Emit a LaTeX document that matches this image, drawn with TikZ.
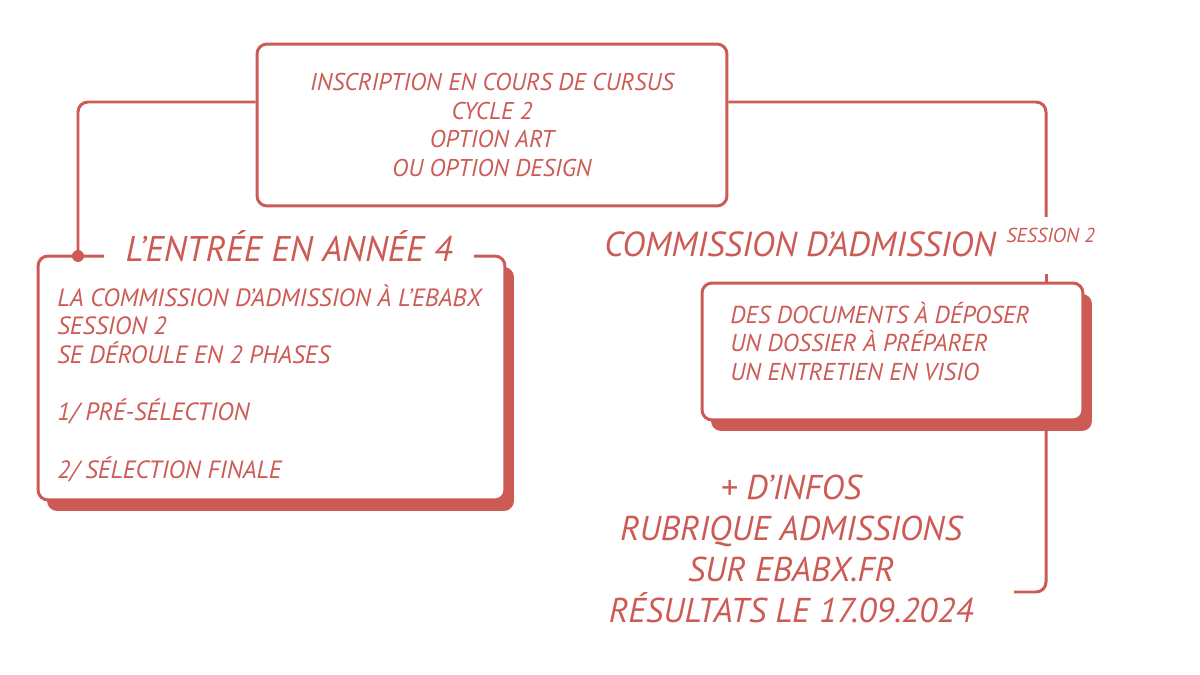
\documentclass[tikz,border=0pt]{standalone}
\usepackage{fontspec}
\setmainfont{PT Sans}
\usetikzlibrary{shadows}
\definecolor{ebared}{RGB}{205,91,85}
\tikzset{
  box/.style={draw=ebared, line width=1.7pt, rounded corners=0.2cm, fill=white, inner sep=0pt},
  shadowbox/.style={box, drop shadow={shadow xshift=0.18cm, shadow yshift=-0.22cm, fill=ebared, opacity=1}},
  link/.style={draw=ebared, line width=1.7pt, rounded corners=0.2cm},
  txt/.style={text=ebared, inner sep=0pt, font=\itshape\fontsize{#1}{#1}\selectfont},
}
\begin{document}
\begin{tikzpicture}[x=0.02cm, y=-0.02cm]
                  \useasboundingbox (0,0) rectangle (1200,675);
                  \node[box, minimum width=9.4cm, minimum height=3.24cm, align=center,
                        text=ebared, font=\itshape\fontsize{13.8}{16.4}\selectfont] (inscr) at (492,125)
                        {INSCRIPTION EN COURS DE CURSUS\\CYCLE 2\\OPTION ART\\OU OPTION DESIGN};
                  \node[shadowbox, minimum width=9.34cm, minimum height=4.88cm] (entree) at (271.5,378) {};
                  \node[shadowbox, minimum width=7.62cm, minimum height=2.74cm] (docs) at (892.5,351.5) {};
                  \node[txt=20.3, fill=white, minimum width=7.4cm, anchor=base] (entreetitle) at (289,262) {L’ENTRÉE EN ANNÉE 4};
                  \node[txt=14.2, anchor=base west, align=left, font=\itshape\fontsize{14.2}{16.3}\selectfont] (entreetext) at (57,478)
                        {LA COMMISSION D’ADMISSION À L’EBABX\\SESSION 2\\SE DÉROULE EN 2 PHASES\\[16.3pt]1/ PRÉ-SÉLECTION\\[16.3pt]2/ SÉLECTION FINALE};
                  \node[txt=13.9, anchor=base west, align=left, font=\itshape\fontsize{13.9}{16.2}\selectfont] (docstext) at (730,380)
                        {DES DOCUMENTS À DÉPOSER\\UN DOSSIER À PRÉPARER\\UN ENTRETIEN EN VISIO};
                  \node[txt=19.8, anchor=base west] (comm) at (604,257) {COMMISSION D’ADMISSION};
                  \node[txt=11.5, anchor=base west] (sess) at (1006,243) {SESSION 2};
                  \node[txt=19.6, anchor=base, align=center, font=\itshape\fontsize{19.6}{23.2}\selectfont] (infos) at (791,622)
                        {+ D’INFOS\\RUBRIQUE ADMISSIONS\\SUR EBABX.FR\\RÉSULTATS LE 17.09.2024};
                  \node[circle, fill=ebared, inner sep=0pt, minimum size=0.24cm] (dot) at (78,256) {};
                  \coordinate (lj) at (78,102);
                  \coordinate (r1) at (1046,217);
                  \coordinate (r2) at (1046,274);
                  \coordinate (r3) at (1014,592);
                  \draw[link] (inscr.west |- lj) -| (dot.center);
                  \draw[link] (inscr.east |- lj) -| (r1);
                  \draw[link] (r2) -- (docs.north -| r2);
                  \draw[link] (docs.south -| r2) |- (r3);
              \end{tikzpicture}
\end{document}
